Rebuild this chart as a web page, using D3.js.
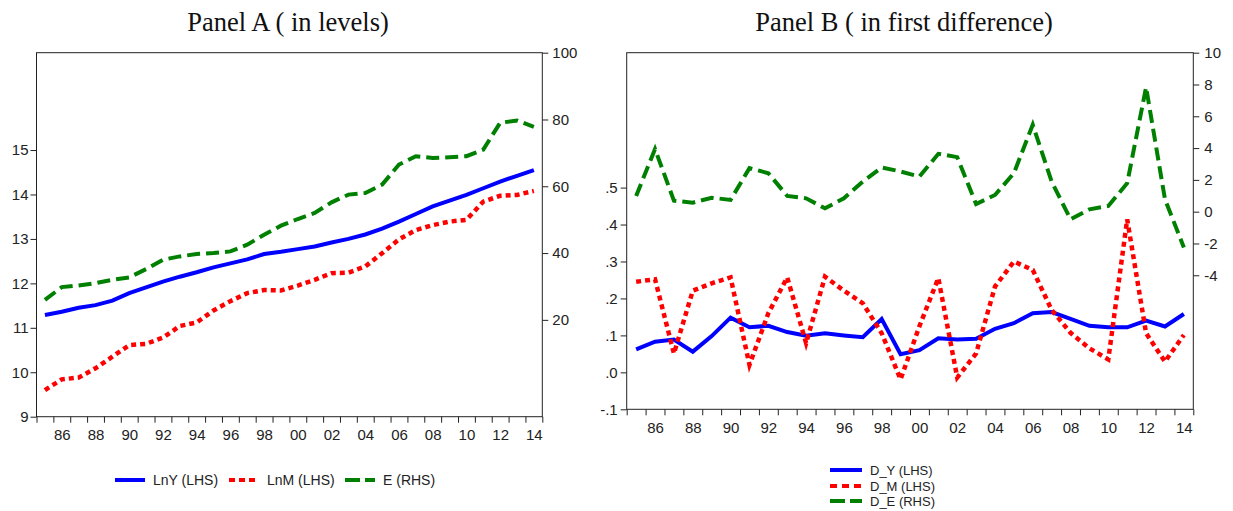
<!DOCTYPE html>
<html>
  <head>
    <meta charset="utf-8">
    <style>
      body { margin: 0; background: #fff; }
      .tick text { font-family: "Liberation Sans", Arial, sans-serif; fill: #222; }
      .title { font-family: "Liberation Serif", "Times New Roman", serif; font-size: 26.5px; fill: #111; }
      .leg { font-family: "Liberation Sans", Arial, sans-serif; fill: #222; }
    </style>
    <script src="https://d3js.org/d3.v7.min.js"></script>
  </head>
  <body>
    <svg width="1233" height="511"></svg>
    <script>
      var years = d3.range(1985, 2015);

      // Panel A (levels)
      var lnY = [11.29, 11.36, 11.45, 11.51, 11.61, 11.78, 11.91, 12.04, 12.15, 12.25,
                 12.36, 12.45, 12.54, 12.66, 12.71, 12.77, 12.83, 12.92, 13.0, 13.1,
                 13.23, 13.39, 13.56, 13.73, 13.86, 13.99, 14.14, 14.29, 14.42, 14.55];
      var lnM = [9.6, 9.84, 9.88, 10.09, 10.35, 10.61, 10.64, 10.78, 11.04, 11.12,
                 11.39, 11.6, 11.78, 11.85, 11.84, 11.95, 12.08, 12.23, 12.24, 12.38,
                 12.68, 12.99, 13.2, 13.31, 13.39, 13.43, 13.84, 13.97, 13.99, 14.08];
      var eLev = [26, 29.8, 30.3, 31, 32, 32.7, 35.2, 38, 39, 39.7,
                  40, 40.5, 42.5, 45.5, 48.2, 50.2, 52, 55.2, 57.5, 58,
                  60.5, 66.5, 69, 68.5, 68.7, 69, 71, 79, 79.7, 77.8];

      // Panel B (first differences)
      var dY = [0.062, 0.083, 0.089, 0.056, 0.098, 0.148, 0.122, 0.126, 0.109, 0.099,
                0.106, 0.100, 0.095, 0.144, 0.049, 0.060, 0.092, 0.089, 0.091, 0.118,
                0.133, 0.160, 0.163, 0.145, 0.126, 0.122, 0.122, 0.140, 0.124, 0.158];
      var dM = [0.245, 0.252, 0.051, 0.221, 0.241, 0.257, 0.020, 0.160, 0.257, 0.079,
                0.259, 0.221, 0.187, 0.106, -0.019, 0.125, 0.255, -0.014, 0.051, 0.232,
                0.300, 0.277, 0.169, 0.107, 0.065, 0.035, 0.414, 0.106, 0.029, 0.101];
      var dE = [0.99, 3.94, 0.69, 0.57, 0.88, 0.74, 2.74, 2.42, 0.99, 0.84,
                0.21, 0.84, 1.89, 2.78, 2.53, 2.21, 3.64, 3.43, 0.48, 1.05,
                2.42, 5.47, 1.89, -0.48, 0.15, 0.36, 1.79, 7.83, 0.78, -2.25];

      var leftTicksA = [9, 10, 11, 12, 13, 14, 15];
      var rightTicksA = [20, 40, 60, 80, 100];
      var leftTicksB = [-0.1, 0, 0.1, 0.2, 0.3, 0.4, 0.5];
      var rightTicksB = [-4, -2, 0, 2, 4, 6, 8, 10];

      var blue = "#0000ff", red = "#ff0000", green = "#008000";

      var svg = d3.select("svg");

      function hyphen(s) { return s.replace("\u2212", "-"); }

      function panel(opt) {
        var x = d3.scaleLinear().domain([1984.5, 2014.5]).range([opt.x0, opt.x1]);
        var yl = d3.scaleLinear().domain(opt.leftDom).range([opt.y1, opt.y0]);
        var yr = d3.scaleLinear().domain(opt.rightDom).range([opt.y1, opt.y0]);

        var g = svg.append("g");

        g.append("rect")
          .attr("x", opt.x0).attr("y", opt.y0)
          .attr("width", opt.x1 - opt.x0).attr("height", opt.y1 - opt.y0)
          .attr("fill", "none").attr("stroke", "#222").attr("stroke-width", 1);

        // year boundary ticks
        g.append("g")
          .attr("transform", "translate(0," + opt.y1 + ")")
          .call(d3.axisBottom(x).tickValues(d3.range(1984.5, 2015, 1)).tickSize(6).tickFormat(""))
          .call(function (s) { s.select(".domain").remove(); s.selectAll("line").attr("stroke", "#222"); });

        // year labels
        g.append("g")
          .attr("transform", "translate(0," + opt.y1 + ")")
          .call(d3.axisBottom(x).tickValues(years.filter(function (d) { return d % 2 === 0; }))
            .tickSize(0).tickPadding(opt.xPad)
            .tickFormat(function (d) { return String(d).slice(2); }))
          .call(function (s) { s.select(".domain").remove(); s.selectAll("text").style("font-size", opt.fs + "px"); });

        g.append("g")
          .attr("transform", "translate(" + opt.x0 + ",0)")
          .call(d3.axisLeft(yl).tickValues(opt.leftTicks).tickSize(6).tickPadding(opt.lPad).tickFormat(opt.leftFmt))
          .call(function (s) { s.select(".domain").remove(); s.selectAll("line").attr("stroke", "#222"); s.selectAll("text").style("font-size", opt.fs + "px"); });

        g.append("g")
          .attr("transform", "translate(" + opt.x1 + ",0)")
          .call(d3.axisRight(yr).tickValues(opt.rightTicks).tickSize(6).tickPadding(opt.rPad)
            .tickFormat(function (d) { return hyphen(d3.format("d")(d)); }))
          .call(function (s) { s.select(".domain").remove(); s.selectAll("line").attr("stroke", "#222"); s.selectAll("text").style("font-size", opt.fs + "px"); });

        opt.series.forEach(function (sr) {
          var yy = sr.side === "L" ? yl : yr;
          var line = d3.line().x(function (d, i) { return x(years[i]); }).y(function (d) { return yy(d); });
          g.append("path").datum(sr.values)
            .attr("d", line)
            .attr("fill", "none")
            .attr("stroke", sr.color)
            .attr("stroke-width", sr.w)
            .attr("stroke-dasharray", sr.dash);
        });

        svg.append("text").attr("class", "title")
          .attr("x", opt.titleX).attr("y", 31)
          .attr("text-anchor", "middle").text(opt.title);
      }

      var lvlFmt = d3.format("d");
      var diffFmt = function (d) { var s = hyphen(d3.format(".1f")(d)); return s.replace(/^(-?)0\./, "$1."); };

      panel({
        x0: 36.5, x1: 542.3, y0: 52.7, y1: 416.7,
        leftDom: [9, 17.19], rightDom: [-9, 100],
        leftTicks: leftTicksA, rightTicks: rightTicksA, leftFmt: lvlFmt,
        fs: 15, xPad: 13, lPad: 2, rPad: 4, titleX: 288,
        title: "Panel A ( in levels)",
        series: [
          { values: lnY, side: "L", color: blue, w: 4, dash: null },
          { values: lnM, side: "L", color: red, w: 4.5, dash: "5,4" },
          { values: eLev, side: "R", color: green, w: 4, dash: "13,6" }
        ]
      });

      panel({
        x0: 626.7, x1: 1193.3, y0: 52.7, y1: 409.3,
        leftDom: [-0.1, 0.865], rightDom: [-12.43, 10],
        leftTicks: leftTicksB, rightTicks: rightTicksB, leftFmt: diffFmt,
        fs: 15, xPad: 13, lPad: 3, rPad: 5, titleX: 904,
        title: "Panel B ( in first difference)",
        series: [
          { values: dY, side: "L", color: blue, w: 4, dash: null },
          { values: dM, side: "L", color: red, w: 4.5, dash: "5,4" },
          { values: dE, side: "R", color: green, w: 4, dash: "13,6" }
        ]
      });

      // legends
      var legA = [
        { name: "LnY (LHS)", color: blue, dash: null, x: 115 },
        { name: "LnM (LHS)", color: red, dash: "6,4", x: 229 },
        { name: "E (RHS)", color: green, dash: "15,5", x: 345 }
      ];
      legA.forEach(function (d) {
        svg.append("line").attr("x1", d.x).attr("x2", d.x + 30).attr("y1", 480).attr("y2", 480)
          .attr("stroke", d.color).attr("stroke-width", 4).attr("stroke-dasharray", d.dash);
        svg.append("text").attr("class", "leg").attr("x", d.x + 38).attr("y", 485)
          .style("font-size", "14px").text(d.name);
      });

      var legB = [
        { name: "D_Y (LHS)", color: blue, dash: null, y: 470 },
        { name: "D_M (LHS)", color: red, dash: "7,5", y: 486 },
        { name: "D_E (RHS)", color: green, dash: "15,5", y: 501 }
      ];
      legB.forEach(function (d) {
        svg.append("line").attr("x1", 830).attr("x2", 862).attr("y1", d.y).attr("y2", d.y)
          .attr("stroke", d.color).attr("stroke-width", 4).attr("stroke-dasharray", d.dash);
        svg.append("text").attr("class", "leg").attr("x", 870).attr("y", d.y + 4.5)
          .style("font-size", "13px").text(d.name);
      });
    </script>
  </body>
</html>
